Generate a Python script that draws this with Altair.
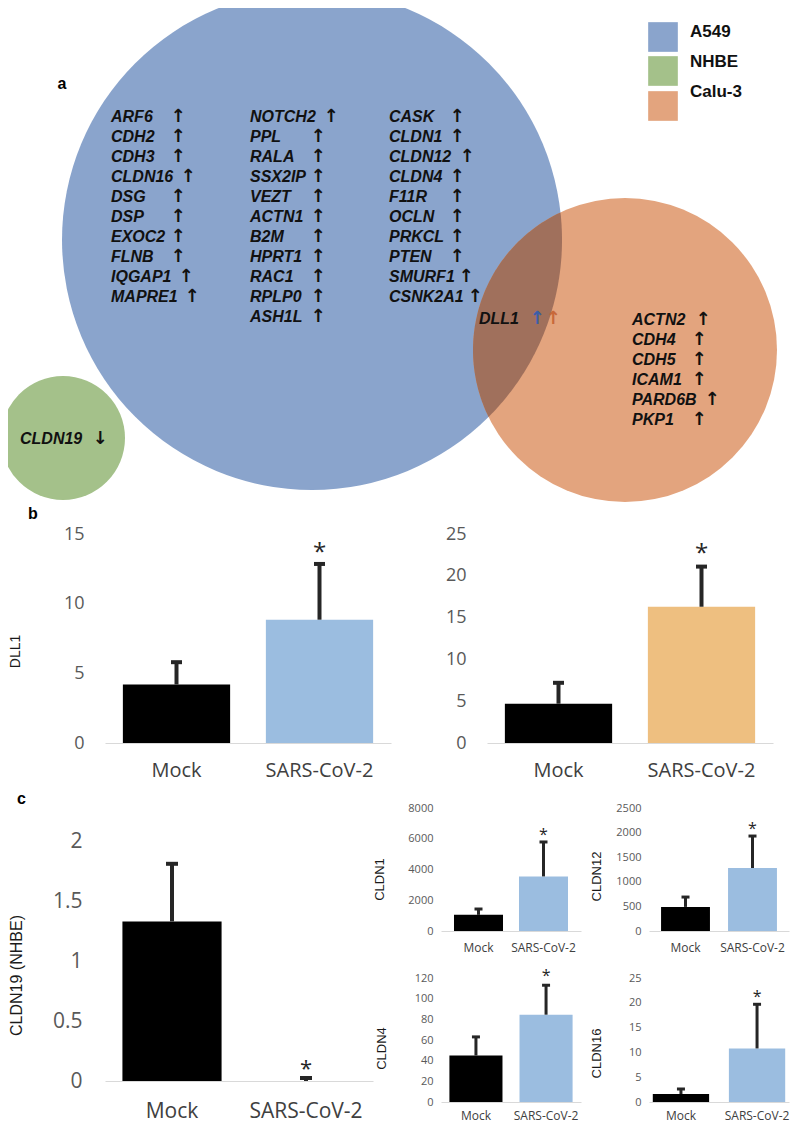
import math
import altair as alt
import pandas as pd

# ---------------- Panel a : Venn diagram ----------------
set_names = ["A549", "NHBE", "Calu-3"]
set_colors = ["#8aa4cc", "#a4c18a", "#e3a47e"]
overlap_color = "#a0705c"
set_cx = [312, 63, 625]
set_cy = [240, 438, 350]
set_r = [250, 62, 152]

legend_sq_y = [37, 71, 106]
legend_txt_y = [32, 62, 92]

a549_col1 = ["ARF6", "CDH2", "CDH3", "CLDN16", "DSG", "DSP", "EXOC2", "FLNB", "IQGAP1", "MAPRE1"]
a549_col1_arrow_x = [178, 178, 178, 188, 178, 178, 178, 178, 186, 192]
a549_col2 = ["NOTCH2", "PPL", "RALA", "SSX2IP", "VEZT", "ACTN1", "B2M", "HPRT1", "RAC1", "RPLP0", "ASH1L"]
a549_col2_arrow_x = [331, 318, 318, 318, 318, 318, 318, 318, 318, 318, 318]
a549_col3 = ["CASK", "CLDN1", "CLDN12", "CLDN4", "F11R", "OCLN", "PRKCL", "PTEN", "SMURF1", "CSNK2A1"]
a549_col3_arrow_x = [457, 457, 467, 457, 457, 457, 457, 457, 466, 475]
calu3_genes = ["ACTN2", "CDH4", "CDH5", "ICAM1", "PARD6B", "PKP1"]
calu3_arrow_x = [703, 699, 699, 699, 712, 699]

UP, DOWN = "\u2191", "\u2193"

gene_rows = []
arrow_rows = []
def add_list(genes, x0, y0, arrow_xs, step=20):
    for i, g in enumerate(genes):
        gene_rows.append({"label": g, "x": x0, "y": y0 + i * step})
        arrow_rows.append({"label": UP, "x": arrow_xs[i], "y": y0 + i * step, "color": "#111111"})

add_list(a549_col1, 111, 117, a549_col1_arrow_x)
add_list(a549_col2, 250, 117, a549_col2_arrow_x)
add_list(a549_col3, 389, 117, a549_col3_arrow_x)
add_list(calu3_genes, 632, 320, calu3_arrow_x)
gene_rows.append({"label": "DLL1", "x": 479, "y": 319})
arrow_rows.append({"label": UP, "x": 537, "y": 319, "color": "#3a5ea8"})
arrow_rows.append({"label": UP, "x": 553, "y": 319, "color": "#c8683a"})
gene_rows.append({"label": "CLDN19", "x": 20, "y": 439})
arrow_rows.append({"label": DOWN, "x": 100, "y": 439, "color": "#111111"})

VX = alt.Scale(domain=[8, 792], nice=False, zero=False)
VY = alt.Scale(domain=[505, 8], nice=False, zero=False)

def vx(f):
    return alt.X(f, scale=VX, axis=None)

def vy(f):
    return alt.Y(f, scale=VY, axis=None)

# Vega circle symbols: size = (diameter)^2
circ_df = pd.DataFrame({
    "name": set_names, "cx": set_cx, "cy": set_cy,
    "area": [(2 * r) ** 2 for r in set_r], "color": set_colors,
})
circles = alt.Chart(circ_df).mark_circle(opacity=1, clip=True).encode(
    x=vx("cx:Q"), y=vy("cy:Q"),
    size=alt.Size("area:Q", scale=None, legend=None),
    color=alt.Color("color:N", scale=None),
    order=alt.Order("cx:Q"),
)

# lens shaped overlap of A549 (blue) and Calu-3 (orange) circles, derived from the circle geometry
(bx, by, br), (ox, oy, orr) = (set_cx[0], set_cy[0], set_r[0]), (set_cx[2], set_cy[2], set_r[2])
d = math.hypot(ox - bx, oy - by)
a = (br ** 2 - orr ** 2 + d ** 2) / (2 * d)
h = math.sqrt(br ** 2 - a ** 2)
px, py = bx + a * (ox - bx) / d, by + a * (oy - by) / d
ys = sorted([py + h * (ox - bx) / d, py - h * (ox - bx) / d])
lens_rows = []
n = 120
for i in range(n + 1):
    yy = ys[0] + (ys[1] - ys[0]) * i / n
    xl = ox - math.sqrt(max(orr ** 2 - (yy - oy) ** 2, 0))
    xr = bx + math.sqrt(max(br ** 2 - (yy - by) ** 2, 0))
    lens_rows.append({"ly": yy, "x1": xl, "x2": max(xl, xr)})
lens = alt.Chart(pd.DataFrame(lens_rows)).mark_area(
    orient="horizontal", color=overlap_color, opacity=1, clip=True).encode(
    y=vy("ly:Q"), x=vx("x1:Q"), x2="x2:Q")

leg_df = pd.DataFrame({"name": set_names, "sy": legend_sq_y, "ty": legend_txt_y, "color": set_colors,
                       "sx": [663] * 3, "tx": [690] * 3})
leg_sq = alt.Chart(leg_df).mark_square(size=880, opacity=1, clip=True).encode(
    x=vx("sx:Q"), y=vy("sy:Q"), color=alt.Color("color:N", scale=None))
leg_txt = alt.Chart(leg_df).mark_text(font="Liberation Sans", fontSize=17, fontWeight="bold",
                                      align="left", baseline="middle", color="#111111", clip=True).encode(
    x=vx("tx:Q"), y=vy("ty:Q"), text="name:N")

genes_txt = alt.Chart(pd.DataFrame(gene_rows)).mark_text(
    font="Liberation Sans", fontSize=16, fontWeight="bold", fontStyle="italic",
    align="left", baseline="middle", color="#111111", clip=True).encode(
    x=vx("x:Q"), y=vy("y:Q"), text="label:N")
arrows_txt = alt.Chart(pd.DataFrame(arrow_rows)).mark_text(
    font="DejaVu Sans", fontSize=18, fontWeight="bold", align="center", baseline="middle", clip=True).encode(
    x=vx("x:Q"), y=vy("y:Q"), text="label:N", color=alt.Color("color:N", scale=None))
a_lbl = alt.Chart(pd.DataFrame({"t": ["a"], "x": [62], "y": [84]})).mark_text(
    font="Liberation Sans", fontSize=16, fontWeight="bold", align="center", baseline="middle",
    color="#000000", clip=True).encode(x=vx("x:Q"), y=vy("y:Q"), text="t:N")

venn = alt.layer(circles, lens, leg_sq, leg_txt, genes_txt, arrows_txt, a_lbl).properties(
    width=784, height=497)

# ---------------- Bar panels ----------------
conditions = ["Mock", "SARS-CoV-2"]
BLACK, BLUE, ORANGE = "#000000", "#9bbde0", "#eebf80"
ERR = "#262626"
TICK_FONT = "Open Sans"

# b: DLL1 (A549) and DLL1 (Calu-3)
dll1_a549 = [4.2, 8.85]
dll1_a549_err = [5.8, 12.85]
dll1_calu3 = [4.7, 16.3]
dll1_calu3_err = [7.2, 21.1]
# c: CLDN19 (NHBE) and claudins in A549
cldn19 = [1.33, 0.0]
cldn19_err = [1.81, 0.025]
cldn1 = [1050, 3550]
cldn1_err = [1430, 5790]
cldn12 = [490, 1280]
cldn12_err = [690, 1930]
cldn4 = [45, 84.5]
cldn4_err = [63, 113]
cldn16 = [1.6, 10.8]
cldn16_err = [2.6, 19.7]
stars = ["", "*"]


def bar_panel(values, errors, colors, ymax, yticks, width, height, ytitle,
              p_in, p_out, tick_fs, xlab_fs, ylab_pad, xlab_pad,
              ytitle_fs=13, ytitle_x=None, ytitle_y=None,
              rule_w=4, cap_size=11, cap_t=4, star_fs=22, star_dy=-12, title=None,
              yrange=None, xaxis_offset=0):
    df = pd.DataFrame({"cond": conditions, "value": values, "err": errors,
                       "star": stars, "color": colors})
    x = alt.X("cond:N", sort=conditions,
              scale=alt.Scale(paddingInner=p_in, paddingOuter=p_out),
              axis=alt.Axis(title=None, labelAngle=0, labelFont=TICK_FONT, labelFontSize=xlab_fs,
                            labelColor="#404040", labelPadding=xlab_pad, ticks=False, tickSize=0,
                            domainColor="#d9d9d9", domainWidth=1, grid=False, offset=xaxis_offset))
    ax = dict(values=yticks, format="~r", grid=False, domain=False, ticks=False, tickSize=0,
              labelFont=TICK_FONT, labelFontSize=tick_fs, labelColor="#595959",
              labelPadding=ylab_pad)
    if ytitle:
        ax.update(title=ytitle, titleFont="Liberation Sans", titleFontSize=ytitle_fs,
                  titleFontWeight="normal", titleColor="#1a1a1a",
                  titleX=ytitle_x, titleY=ytitle_y)
    else:
        ax.update(title=None)
    sc = dict(domain=[0, ymax], nice=False, zero=True)
    if yrange is not None:
        sc["range"] = yrange
    yscale = alt.Scale(**sc)
    axis = alt.Axis(**ax)
    base = alt.Chart(df)
    bars = base.mark_bar().encode(
        x=x, y=alt.Y("value:Q", scale=yscale, axis=axis),
        color=alt.Color("color:N", scale=None))
    rule = base.mark_rule(strokeWidth=rule_w, color=ERR).encode(
        x=x, y=alt.Y("value:Q", scale=yscale, axis=axis), y2="err:Q")
    cap = base.mark_tick(thickness=cap_t, size=cap_size, color=ERR, opacity=1).encode(
        x=x, y=alt.Y("err:Q", scale=yscale, axis=axis))
    star = base.mark_text(font=TICK_FONT, fontSize=star_fs, color=ERR, baseline="middle",
                          dy=star_dy).encode(
        x=x, y=alt.Y("err:Q", scale=yscale, axis=axis), text="star:N")
    props = dict(width=width, height=height)
    if title is not None:
        props["title"] = title
    return alt.layer(bars, rule, cap, star).properties(**props)


def panel_title(letter, dx, offset):
    return alt.TitleParams(letter, anchor="start", frame="group", dx=dx, offset=offset,
                           fontSize=16, font="Liberation Sans", fontWeight="bold", color="#000000")


def blank(w, h):
    return alt.Chart(pd.DataFrame({"v": [0]})).mark_point(
        opacity=0, size=0, strokeWidth=0, filled=True).encode(
        x=alt.X("v:Q", axis=None), y=alt.Y("v:Q", axis=None)).properties(width=w, height=h)


b_left = bar_panel(dll1_a549, dll1_a549_err, [BLACK, BLUE], 15, [0, 5, 10, 15], 286, 209, "DLL1",
                   0.25, 0.125, 18, 20, 21, 17, ytitle_fs=14, ytitle_x=-83, ytitle_y=117,
                   star_fs=24, star_dy=-11, title=panel_title("b", -77, 3))
b_right = bar_panel(dll1_calu3, dll1_calu3_err, [BLACK, ORANGE], 25, [0, 5, 10, 15, 20, 25], 286, 209,
                    None, 0.25, 0.125, 18, 20, 21, 17, star_fs=24, star_dy=-13)
b_row = alt.hconcat(blank(1, 1), b_left, b_right, spacing=96, bounds="flush")

# big CLDN19 panel: layout height 123, drawn over 273 px via explicit range
c_big = bar_panel(cldn19, cldn19_err, [BLACK, BLUE], 2.275, [0, 0.5, 1, 1.5, 2], 268, 123,
                  "CLDN19 (NHBE)", 0.26, 0.13, 21, 21, 23, 19, ytitle_fs=16, ytitle_x=-81,
                  ytitle_y=167, cap_size=12, star_fs=22, star_dy=-9,
                  title=panel_title("c", -88, 1), yrange=[273, 0], xaxis_offset=150)
c_cldn1 = bar_panel(cldn1, cldn1_err, [BLACK, BLUE], 8000, [0, 2000, 4000, 6000, 8000], 140, 123,
                    "CLDN1", 0.246, 0.2, 11, 12, 8, 11, ytitle_x=-55, ytitle_y=71,
                    rule_w=3, cap_size=8, cap_t=3, star_fs=16, star_dy=-7)
c_cldn12 = bar_panel(cldn12, cldn12_err, [BLACK, BLUE], 2500, [0, 500, 1000, 1500, 2000, 2500], 140, 123,
                     "CLDN12", 0.27, 0.18, 11, 12, 8, 11, ytitle_x=-46, ytitle_y=68,
                     rule_w=3, cap_size=8, cap_t=3, star_fs=16, star_dy=-7)
c_cldn4 = bar_panel(cldn4, cldn4_err, [BLACK, BLUE], 120, [0, 20, 40, 60, 80, 100, 120], 140, 124,
                    "CLDN4", 0.243, 0.12, 11, 12, 8, 8, ytitle_x=-53, ytitle_y=70,
                    rule_w=3, cap_size=8, cap_t=3, star_fs=16, star_dy=-9)
c_cldn16 = bar_panel(cldn16, cldn16_err, [BLACK, BLUE], 25, [0, 5, 10, 15, 20, 25], 140, 124,
                     "CLDN16", 0.26, 0.05, 11, 12, 8, 8, ytitle_x=-46, ytitle_y=75,
                     rule_w=3, cap_size=8, cap_t=3, star_fs=16, star_dy=-7)

c_grid = alt.concat(blank(29, 1), c_big, c_cldn1, c_cldn12,
                    blank(29, 1), blank(268, 1), c_cldn4, c_cldn16,
                    columns=4, spacing={"row": 47, "column": 68}, bounds="flush", align="each")

lower = alt.vconcat(b_row, c_grid, spacing=11)
chart = alt.vconcat(venn, lower, spacing=1,
                    padding={"left": 0, "top": 0, "right": 0, "bottom": 6},
                    background="white").configure_view(stroke=None).configure_axis(grid=False)

chart.save("out.html", embed_options={"renderer": "svg", "actions": False})
